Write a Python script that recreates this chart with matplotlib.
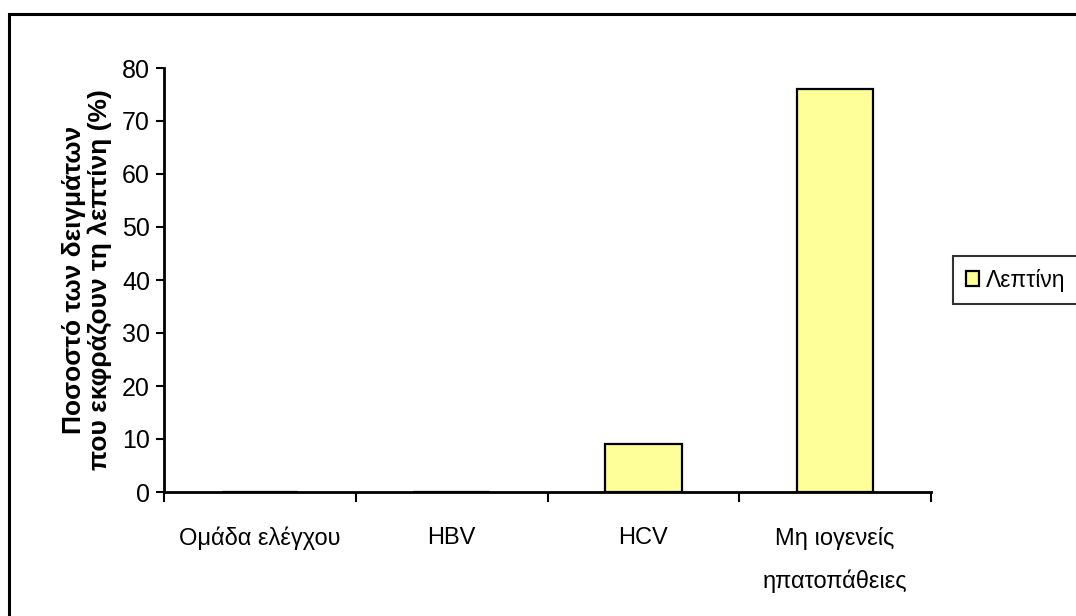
import matplotlib.pyplot as plt
from matplotlib.patches import Rectangle

plt.rcParams['font.family'] = ['Liberation Sans', 'DejaVu Sans']

categories = ['Ομάδα ελέγχου', 'HBV', 'HCV', 'Μη ιογενείς\nηπατοπάθειες']
leptin = [0, 0, 9, 76]
series_name = 'Λεπτίνη'

fig = plt.figure(figsize=(10.76, 6.16), dpi=100)
ax = fig.add_axes([164 / 1076, 1 - 492 / 616, (931 - 164) / 1076, (492 - 68) / 616])

# outer chart border (runs off the right and bottom edges)
fig.patches.append(Rectangle((9 / 1076, -0.05), 1.1, 1 - 14 / 616 + 0.05,
                             transform=fig.transFigure, fill=False,
                             edgecolor='black', linewidth=2.2))

x = range(len(categories))
ax.bar(x, leptin, width=0.4, color='#ffff99', edgecolor='black', linewidth=1.6,
       label=series_name)

ax.set_xlim(-0.5, len(categories) - 0.5)
ax.set_ylim(0, 80)
ax.set_yticks(range(0, 81, 10))
ax.tick_params(axis='y', labelsize=18, width=1.5, length=6, pad=4)
ax.set_xticks([i - 0.5 for i in range(len(categories) + 1)])
ax.set_xticklabels([])
ax.set_xticks(list(x), minor=True)
ax.set_xticklabels(categories, minor=True, fontsize=17, linespacing=2.05)
ax.tick_params(axis='x', which='major', width=1.5, length=7)
ax.tick_params(axis='x', which='minor', length=0, pad=25)

for s in ['top', 'right']:
    ax.spines[s].set_visible(False)
for s in ['left', 'bottom']:
    ax.spines[s].set_linewidth(2)

ax.set_ylabel('Ποσοστό των δειγμάτων\nπου εκφράζουν τη λεπτίνη (%)',
              fontsize=19, fontweight='bold', labelpad=7, linespacing=1.12)

leg = ax.legend(loc='center left', bbox_to_anchor=(953 / 1076, 1 - 280 / 616),
                bbox_transform=fig.transFigure, fontsize=16.5, frameon=True,
                fancybox=False, edgecolor='black', handlelength=0.6,
                handleheight=0.6, handletextpad=0.3, borderpad=0.55,
                borderaxespad=0)
leg.get_frame().set_linewidth(1.5)

fig.savefig('out.png', dpi=100)
